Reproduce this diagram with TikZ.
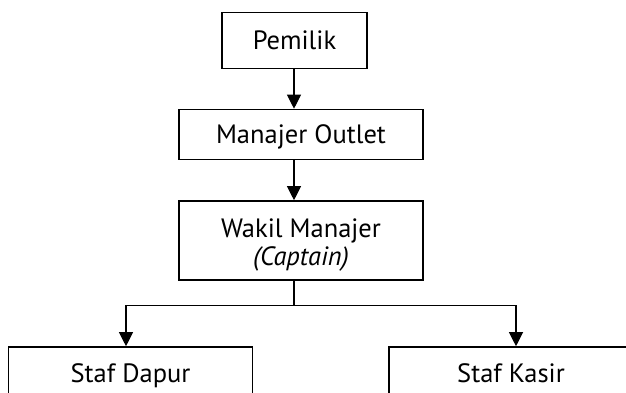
\documentclass[tikz,border=0pt]{standalone}
\usepackage{fontspec}
\setmainfont{PT Sans}
\usetikzlibrary{arrows.meta}
\begin{document}
\begin{tikzpicture}[x=1pt,y=1pt,
  chartfont/.style={font=\fontsize{26.5}{28}\selectfont},
  box/.style={draw, line width=1.6pt, rectangle, inner sep=0pt, chartfont,
    align=center, text height=18.5pt, text depth=0pt},
  frame/.style={draw, line width=1.6pt, rectangle, inner sep=0pt},
  link/.style={line width=1.1pt},
  arr/.style={link, -{Triangle[width=14pt,length=14pt]}}]
\useasboundingbox (0,0) rectangle (626,-392);
\clip (0,0) rectangle (626,-392);
% boxes of the chart
\node[box, minimum width=145pt, minimum height=56pt] (pem) at (294.5,-40.3) {Pemilik};
\node[box, minimum width=244pt, minimum height=50pt] (man) at (301,-134.5) {Manajer Outlet};
\node[frame, minimum width=244pt, minimum height=79pt] (wak) at (301,-240.5) {};
\node[chartfont, align=center, inner sep=0pt] (waktext) at ([yshift=-4.5pt]wak.center)
  {Wakil Manajer\\\textit{(Captain)}};
\node[box, minimum width=244pt, minimum height=53pt] (dap) at (130.5,-373.5) {Staf Dapur};
\node[box, minimum width=244pt, minimum height=53pt] (kas) at (511,-373.5) {Staf Kasir};
% branching points
\coordinate (fork) at (294,-305.7);
\coordinate (forkL) at (126,-305.7);
\coordinate (forkR) at (516,-305.7);
% connectors
\draw[arr] (pem.south -| fork) -- (man.north -| fork);
\draw[arr] (man.south -| fork) -- (wak.north -| fork);
\draw[link] (wak.south -| fork) -- (fork);
\draw[arr] (fork) -- (forkL) -- (dap.north -| forkL);
\draw[arr] (fork) -- (forkR) -- (kas.north -| forkR);
\end{tikzpicture}
\end{document}
